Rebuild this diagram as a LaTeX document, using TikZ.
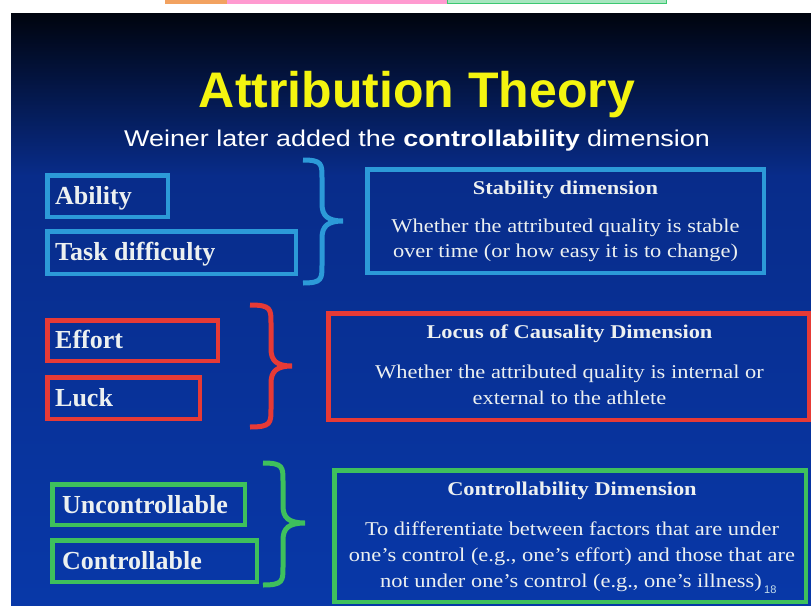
\documentclass[tikz,border=0pt]{standalone}
\usepackage{fontspec}
\setmainfont{Liberation Serif}
\newfontfamily\headfont{Liberation Sans}
\newfontfamily\subfont[FakeStretch=1.18]{Liberation Sans}
\newfontfamily\bodyfont[FakeStretch=1.15]{Liberation Serif}

\definecolor{bgtop}{HTML}{00040E}
\definecolor{bgmid}{HTML}{082C8A}
\definecolor{bglow}{HTML}{0838A8}
\definecolor{cblue}{HTML}{2C9AD8}
\definecolor{cred}{HTML}{E63A36}
\definecolor{cgreen}{HTML}{3EC05C}
\definecolor{titleyellow}{HTML}{F4F410}
\definecolor{paper}{HTML}{ECF0F0}
\definecolor{tabor}{HTML}{F2A260}
\definecolor{tabpk}{HTML}{FF9AD0}
\definecolor{tabgr}{HTML}{3CC870}

\tikzset{
  framebox/.style={draw=#1, line width=4.5pt, inner sep=0pt},
  itemtext/.style={font=\bfseries\fontsize{26}{30}\selectfont, text=paper,
    anchor=base west, inner sep=0pt},
  dimtitle/.style={font=\bodyfont\bfseries\fontsize{19.5}{24}\selectfont,
    text=paper, anchor=base, inner sep=0pt},
  dimtext/.style={font=\bodyfont\fontsize{19.5}{24}\selectfont,
    text=paper, anchor=base, inner sep=0pt},
  curly/.style={draw=#1, line width=5pt}
}

% curly brace: #1 colour, #2 end x, #3 stem x, #4 tip x, #5 top y, #6 tip y, #7 bottom y
\newcommand\curlybrace[7]{%
  \draw[curly=#1] (#2,#5)
    .. controls (#3,#5) and (#3,{#5+4}) .. (#3,{#5+18})
    -- (#3,{#6-17})
    .. controls (#3,{#6-5}) and ({#3+6},#6) .. (#4,#6)
    .. controls ({#3+6},#6) and (#3,{#6+5}) .. (#3,{#6+17})
    -- (#3,{#7-18})
    .. controls (#3,{#7-4}) and (#3,#7) .. (#2,#7);}

\begin{document}
\begin{tikzpicture}[x=1pt, y=-1pt]
\useasboundingbox (0,0) rectangle (811,605);
\fill[white] (0,0) rectangle (811,605);

% tabs along the top edge
\fill[tabor] (165,0) rectangle (227,4);
\fill[tabpk] (227,0) rectangle (447,4);
\fill[tabgr!45] (447,0) rectangle (666,4);
\draw[tabgr, line width=1pt] (447,0) -- (447,3.5) -- (666,3.5) -- (666,0);

% slide background
\shade[top color=bgtop, bottom color=bgmid] (11,13) rectangle (811,176);
\shade[top color=bgmid, bottom color=bglow] (11,175) rectangle (811,605);

% headings
\node[font=\headfont\bfseries\fontsize{50}{56}\selectfont, text=titleyellow,
  anchor=base, inner sep=0pt] (title) at (417,107) {Attribution Theory};
\node[font=\subfont\fontsize{22.8}{27}\selectfont, text=white,
  anchor=base, inner sep=0pt] (subtitle) at (417,146)
  {Weiner later added the \textbf{controllability} dimension};

% stability group
\node[framebox=cblue, minimum width=120.5, minimum height=41.5] (ability) at (107.5,196) {};
\node[itemtext] (abilityT) at (55,204) {Ability};
\node[framebox=cblue, minimum width=248.5, minimum height=42.5] (task) at (171.5,252.5) {};
\node[itemtext] (taskT) at (55,260) {Task difficulty};
\curlybrace{cblue}{303}{322}{343}{160}{221}{283}
\node[framebox=cblue, minimum width=396.5, minimum height=103.5] (stab) at (565.5,221) {};
\node[dimtitle] (stabT) at (565.5,194) {Stability dimension};
\node[dimtext] (stab1) at (565.5,232) {Whether the attributed quality is stable};
\node[dimtext] (stab2) at (565.5,257) {over time (or how easy it is to change)};

% locus group
\node[framebox=cred, minimum width=170.5, minimum height=40.5] (effort) at (132.5,340.5) {};
\node[itemtext] (effortT) at (55,348) {Effort};
\node[framebox=cred, minimum width=152.5, minimum height=41.5] (luck) at (123.5,398) {};
\node[itemtext] (luckT) at (55,406) {Luck};
\curlybrace{cred}{250}{271}{292}{305}{366}{427}
\node[framebox=cred, minimum width=480.5, minimum height=106.5] (locus) at (568.5,366.5) {};
\node[dimtitle] (locusT) at (569.5,338) {Locus of Causality Dimension};
\node[dimtext] (locus1) at (569.5,378) {Whether the attributed quality is internal or};
\node[dimtext] (locus2) at (569.5,404) {external to the athlete};

% controllability group
\node[framebox=cgreen, minimum width=192.5, minimum height=40.5] (unctrl) at (148.5,504.5) {};
\node[itemtext] (unctrlT) at (62,513) {Uncontrollable};
\node[framebox=cgreen, minimum width=204.5, minimum height=41.5] (ctrl) at (154.5,561) {};
\node[itemtext] (ctrlT) at (62,569) {Controllable};
\curlybrace{cgreen}{263}{283}{305}{463}{523}{585}
\node[framebox=cgreen, minimum width=471.5, minimum height=131.5] (cdim) at (570,536) {};
\node[dimtitle] (cdimT) at (572,495) {Controllability Dimension};
\node[dimtext] (cdim1) at (572,535) {To differentiate between factors that are under};
\node[dimtext] (cdim2) at (572,561) {one’s control (e.g., one’s effort) and those that are};
\node[dimtext] (cdim3) at (571,587) {not under one’s control (e.g., one’s illness)};
\node[font=\headfont\fontsize{11}{13}\selectfont, text=paper!80!cblue,
  anchor=base west, inner sep=0pt] (pageno) at (764,593) {18};
\end{tikzpicture}
\end{document}
